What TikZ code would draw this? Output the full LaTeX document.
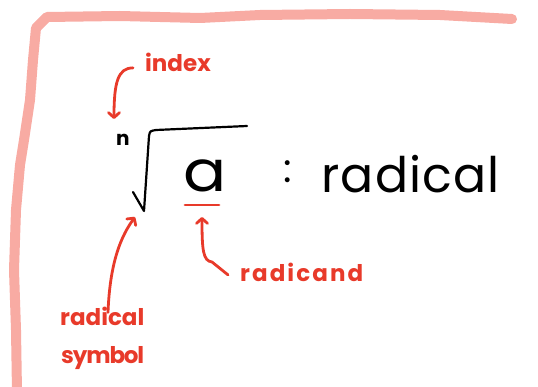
\documentclass[tikz,border=0pt]{standalone}
\usepackage{fontspec}
\setmainfont{Poppins}
\usetikzlibrary{arrows.meta}
\definecolor{hred}{HTML}{E83A2A}
\definecolor{hpink}{HTML}{F8ABA3}
\begin{document}
\begin{tikzpicture}[x=1pt,y=-1pt,
  lbl/.style={text=hred, font=\fontsize{23}{26}\bfseries\selectfont, inner sep=0pt, anchor=base west},
  ink/.style={text=black, inner sep=0pt, anchor=base west},
  arr/.style={draw=hred, line width=2.8pt, line cap=round, -{Straight Barb[length=5pt,width=11pt,round]}},
  stroke/.style={draw=black, line width=2.2pt, line cap=round, line join=round},
  frame/.style={draw=hpink, line width=10pt, line cap=round, line join=round}]
\useasboundingbox (0,0) rectangle (538,387);
% frame
\draw[frame] (17,392) -- (16,330) -- (14,270) -- (16,210) -- (20,165) -- (24,140) -- (30,100) -- (33,60) -- (36,28) -- (47,17) -- (120,16) -- (200,18) -- (260,15) -- (350,14) -- (440,15) -- (512,19);
% black formula
\node[ink, font=\fontsize{20}{22}\bfseries\selectfont] (n) at (116,146) {n};
\draw[stroke] (133,192) -- (144,211) -- (149,136) .. controls (150,131) .. (156,130) -- (247,126);
\node[ink, font=\fontsize{57}{60}\selectfont, xscale=1.12] (a) at (183,192) {a};
\draw[draw=hred, line width=2.8pt, line cap=round] (185,205) -- (219,205);
\node[ink, font=\fontsize{40}{44}\selectfont] (colon) at (283,183) {:};
\node[ink, font=\fontsize{49}{52}\selectfont\addfontfeature{LetterSpace=2.5}] (rad) at (321,193) {radical};
% labels
\node[lbl] (index) at (145,72) {index};
\node[lbl, font=\fontsize{23}{26}\bfseries\selectfont\addfontfeature{LetterSpace=9}] (radicand) at (240,282) {radicand};
\node[lbl] (radsym) at (60,325) {radical};
\node[lbl, font=\fontsize{23}{26}\bfseries\selectfont\addfontfeature{LetterSpace=-5}] (symbol) at (61,363) {symbol};
% arrows
\coordinate (iend) at (114,119);
\coordinate (send) at (135,217);
\coordinate (rend) at (202,217);
\draw[arr] ([xshift=-12pt,yshift=-5pt]index.west) .. controls (118,68) and (114,82) .. (iend);
\draw[arr] ([xshift=48pt,yshift=-6pt]radsym.north west) .. controls (110,260) and (122,235) .. (send);
\draw[arr] ([xshift=-12pt,yshift=-2pt]radicand.west) -- (212,262) .. controls (203,261) and (202,250) .. (rend);
\end{tikzpicture}
\end{document}
